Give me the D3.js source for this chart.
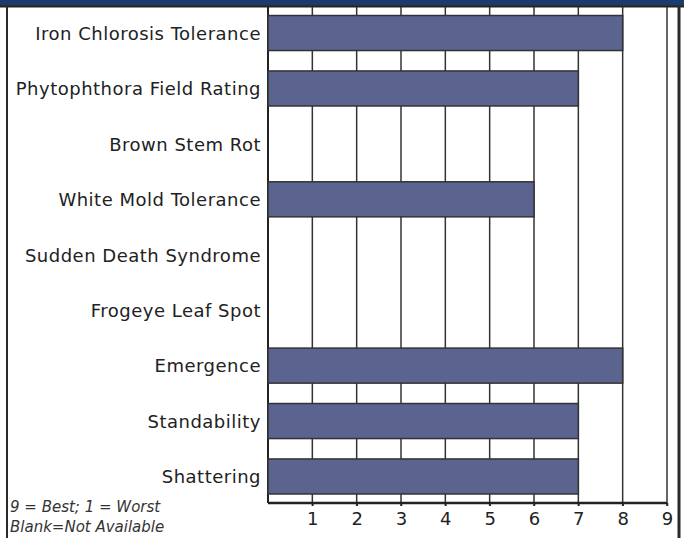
<!DOCTYPE html>
<html>
<head>
<meta charset="utf-8">
<script src="https://cdn.jsdelivr.net/npm/d3@7"></script>
<style>
  html, body { margin: 0; padding: 0; background: #fff; }
  svg { display: block; }
</style>
</head>
<body>
<div id="chart"></div>
<script>
// ratings, 9 = best, null = not available
const traits = [
  "Iron Chlorosis Tolerance",
  "Phytophthora Field Rating",
  "Brown Stem Rot",
  "White Mold Tolerance",
  "Sudden Death Syndrome",
  "Frogeye Leaf Spot",
  "Emergence",
  "Standability",
  "Shattering"
];
const ratings = [8, 7, null, 6, null, null, 8, 7, 7];
const ticks = [1, 2, 3, 4, 5, 6, 7, 8, 9];
const notes = ["9 = Best; 1 = Worst", "Blank=Not Available"];

const width = 684;
const height = 538;
const plotLeft = 268, plotRight = 667, plotTop = 7, axisY = 503;
const font = "'DejaVu Sans', sans-serif";

const svg = d3.select("#chart")
    .append("svg")
    .attr("width", width)
    .attr("height", height)
    .style("font-family", font);

const x = d3.scaleLinear()
    .domain([0, 9])
    .range([plotLeft, plotRight]);

const y = d3.scaleBand()
    .domain(traits)
    .range([7.2, 502.3])
    .paddingInner(0.368)
    .paddingOuter(0.15);

// header band
svg.append("rect")
    .attr("x", 0).attr("y", 0)
    .attr("width", width).attr("height", 6)
    .attr("fill", "#1b3a6d");
svg.append("line")
    .attr("x1", 0).attr("x2", width)
    .attr("y1", 6.5).attr("y2", 6.5)
    .attr("stroke", "#2a2416").attr("stroke-width", 2);

// outer frame
svg.append("line")
    .attr("x1", 7).attr("x2", 7)
    .attr("y1", 6).attr("y2", height)
    .attr("stroke", "#2a2a2a").attr("stroke-width", 2);
svg.append("line")
    .attr("x1", 679).attr("x2", 679)
    .attr("y1", 6).attr("y2", height)
    .attr("stroke", "#2a2a2a").attr("stroke-width", 3);

// grid lines
svg.append("g")
    .selectAll("line")
    .data(ticks)
    .join("line")
    .attr("x1", d => x(d)).attr("x2", d => x(d))
    .attr("y1", plotTop).attr("y2", axisY + 3)
    .attr("stroke", "#333")
    .attr("stroke-width", 1.5);

// left axis line
svg.append("line")
    .attr("x1", x(0)).attr("x2", x(0))
    .attr("y1", plotTop).attr("y2", axisY)
    .attr("stroke", "#222").attr("stroke-width", 2);

// bars
svg.append("g")
    .selectAll("rect")
    .data(traits.map((t, i) => ({ trait: t, value: ratings[i] })).filter(d => d.value != null))
    .join("rect")
    .attr("x", x(0))
    .attr("y", d => y(d.trait))
    .attr("width", d => x(d.value) - x(0))
    .attr("height", y.bandwidth())
    .attr("fill", "#5b648e")
    .attr("stroke", "#333")
    .attr("stroke-width", 1.5);

// bottom axis
const xAxis = d3.axisBottom(x)
    .tickValues(ticks)
    .tickSize(3)
    .tickPadding(6);

svg.append("g")
    .attr("transform", `translate(0,${axisY})`)
    .call(xAxis)
    .call(g => g.select(".domain").attr("stroke", "#222").attr("stroke-width", 2.5).attr("d", `M${x(0)},0H${x(9)}`))
    .call(g => g.selectAll(".tick line").attr("stroke", "#222").attr("stroke-width", 1.5))
    .call(g => g.selectAll(".tick text")
        .attr("font-size", 18)
        .attr("font-family", font)
        .attr("fill", "#222"));

// trait labels
svg.append("g")
    .attr("text-anchor", "end")
    .selectAll("text")
    .data(traits)
    .join("text")
    .attr("x", plotLeft - 7)
    .attr("y", d => y(d) + y.bandwidth() / 2)
    .attr("dy", "0.38em")
    .attr("font-size", 18)
    .attr("letter-spacing", 0.5)
    .attr("fill", "#222")
    .text(d => d);

// notes
svg.append("g")
    .selectAll("text")
    .data(notes)
    .join("text")
    .attr("x", 10)
    .attr("y", (d, i) => 512 + i * 20)
    .attr("font-size", 15)
    .attr("font-style", "italic")
    .attr("fill", "#333")
    .text(d => d);
</script>
</body>
</html>
